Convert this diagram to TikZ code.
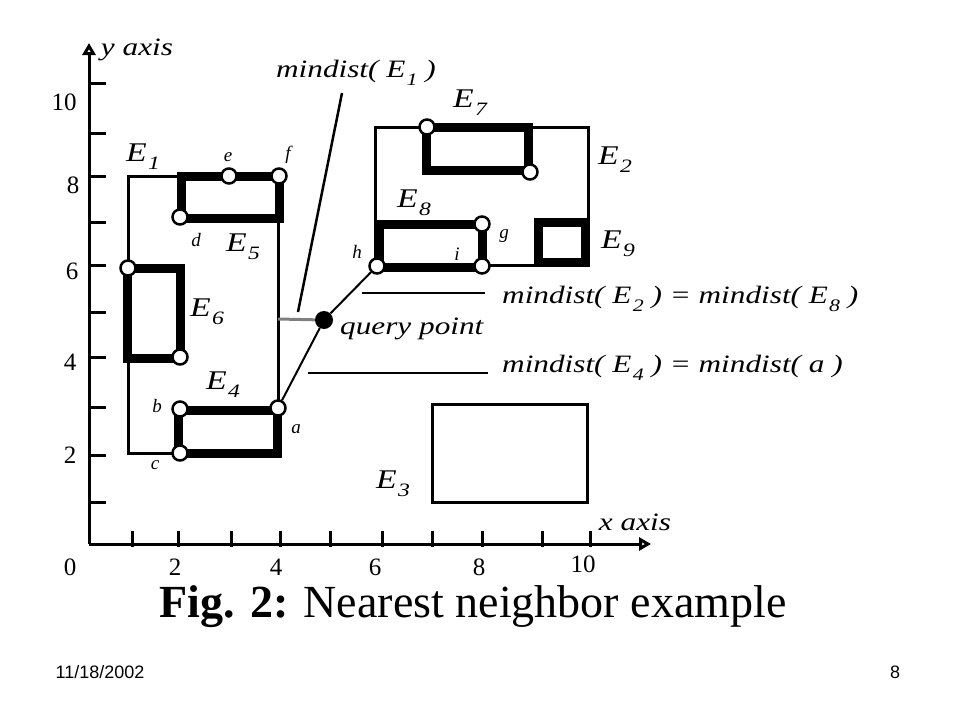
\documentclass[tikz,border=0pt]{standalone}
\usepackage{fontspec}
\setmainfont{Liberation Serif}
\setsansfont{Liberation Sans}
\usetikzlibrary{arrows.meta}
\newcommand\Es[1]{E\kern1pt\lower0.3em\hbox{\scalebox{0.7}{#1}}}
\newcommand\widetxt[1]{\scalebox{1.25}[1]{#1}}
\begin{document}
\begin{tikzpicture}[x=1pt,y=-1pt,
  thinbox/.style={line width=3pt},
  thickbox/.style={line width=9pt},
  vtx/.style={circle,draw,fill=white,line width=2.5pt,minimum size=15pt,inner sep=0pt},
  qpt/.style={circle,fill=black,minimum size=18pt,inner sep=0pt},
  itl/.style={font=\fontsize{25}{28}\selectfont\itshape,inner sep=0pt},
  elbl/.style={font=\fontsize{27}{30}\selectfont\itshape,inner sep=0pt},
  ptl/.style={font=\fontsize{19}{22}\selectfont\itshape,inner sep=0pt},
  num/.style={font=\fontsize{25}{27}\selectfont,inner sep=0pt},
  axisline/.style={line width=3pt},
  tickline/.style={line width=3pt},
  lead/.style={line width=2.5pt},
  axarrow/.style={-{Triangle[open,length=12pt,width=13pt]}},
]
\fill[white] (0,0) rectangle (960,720);
\path[use as bounding box] (0,0) rectangle (960,720);

% axes
\coordinate (O) at (89,544);
\coordinate (xend) at (651,544);
\coordinate (yend) at (89,43);
\draw[axisline,axarrow] (O) -- (xend);
\draw[axisline,axarrow] (O) -- (yend);
\foreach \yy in {502,455,407,357,312,265,222,176,133,83}
  \draw[tickline] (89,\yy) -- (106,\yy);
\foreach \xx in {132,178,231,280,330,382,432,482,542,590}
  \draw[tickline] (\xx,547) -- (\xx,531);

\node[num] (ny10) at (64,102) {10};
\node[num] (ny8) at (73,185) {8};
\node[num] (ny6) at (72,271) {6};
\node[num] (ny4) at (70,362) {4};
\node[num] (ny2) at (70,455) {2};
\node[num] (n0) at (70,567) {0};
\node[num] (nx2) at (175,567) {2};
\node[num] (nx4) at (276,567) {4};
\node[num] (nx6) at (375,567) {6};
\node[num] (nx8) at (479,567) {8};
\node[num] (nx10) at (583,564) {10};
\node[itl] (ylab) at (137,50) {\widetxt{y axis}};
\node[itl] (xlab) at (635,522) {\widetxt{x axis}};

% thin MBRs
\draw[thinbox] (128,176) rectangle (278,453);
\draw[thinbox] (375,127) rectangle (588,265);
\draw[thinbox] (432,404) rectangle (587,502);
% thick MBRs
\draw[thickbox] (181,176) rectangle (279,218);
\draw[thickbox] (127,268) rectangle (180,358);
\draw[thickbox] (178,410) rectangle (277,453);
\draw[thickbox] (426,127) rectangle (528,170);
\draw[thickbox] (379,224) rectangle (482,267);
\draw[thickbox] (538,222) rectangle (585,262);

% vertices
\node[vtx] (e) at (229,176) {};
\node[vtx] (f) at (279,176) {};
\node[vtx] (d) at (180,217) {};
\node[vtx] (v6a) at (128,268) {};
\node[vtx] (v6b) at (180,357) {};
\node[vtx] (b) at (180,409) {};
\node[vtx] (c) at (180,453) {};
\node[vtx] (a) at (278,408) {};
\node[vtx] (v7a) at (427,127) {};
\node[vtx] (v7b) at (530,172) {};
\node[vtx] (g) at (482,224) {};
\node[vtx] (h) at (377,266) {};
\node[vtx] (i) at (482,266) {};
\node[qpt] (q) at (324,320) {};

% connectors
\coordinate (e1r) at (278,319);
\draw[line width=3pt,gray] (e1r) -- (q);
\draw[line width=2pt] (a) -- (q) -- (h);
\coordinate (z1) at (298,312);
\coordinate (z2) at (342,93);
\draw[lead] (z1) -- (z2);
\coordinate (l2a) at (362,293);
\coordinate (l2b) at (485,293);
\draw[lead] (l2a) -- (l2b);
\coordinate (l4a) at (308,373);
\coordinate (l4b) at (488,373);
\draw[lead] (l4a) -- (l4b);

% labels
\node[itl] (m1) at (356,73) {\widetxt{mindist( \Es{1} )}};
\node[itl,anchor=west] (m2) at (502,299) {\widetxt{mindist( \Es{2} ) = mindist( \Es{8} )}};
\node[itl,anchor=west] (m4) at (502,368) {\widetxt{mindist( \Es{4} ) = mindist( a )}};
\node[itl,anchor=west] (ql) at (340,329) {\widetxt{query point}};

\node[elbl] (E1) at (143,157) {\widetxt{\Es{1}}};
\node[elbl] (E5) at (243,247) {\widetxt{\Es{5}}};
\node[elbl] (E6) at (207,312) {\widetxt{\Es{6}}};
\node[elbl] (E4) at (223,385) {\widetxt{\Es{4}}};
\node[elbl] (E7) at (470,103) {\widetxt{\Es{7}}};
\node[elbl] (E2) at (615,160) {\widetxt{\Es{2}}};
\node[elbl] (E8) at (414,203) {\widetxt{\Es{8}}};
\node[elbl] (E9) at (618,244) {\widetxt{\Es{9}}};
\node[elbl] (E3) at (393,484) {\widetxt{\Es{3}}};

\node[ptl] (le) at (228,157) {e};
\node[ptl] (lf) at (288,155) {f};
\node[ptl] (ld) at (196,240) {d};
\node[ptl] (lb) at (157,406) {b};
\node[ptl] (lc) at (155,465) {c};
\node[ptl] (la) at (296,429) {a};
\node[ptl] (lg) at (504,236) {g};
\node[ptl] (lh) at (357,252) {h};
\node[ptl] (li) at (457,254) {i};

% caption and footer
\node[font=\fontsize{46}{50}\selectfont,inner sep=0pt] (cap) at (473,607) {\textbf{Fig. 2:} Nearest neighbor example};
\node[font=\sffamily\fontsize{18}{20}\selectfont,inner sep=0pt] (date) at (100,672) {11/18/2002};
\node[font=\sffamily\fontsize{18}{20}\selectfont,inner sep=0pt] (pg) at (895,672) {8};
\end{tikzpicture}
\end{document}
